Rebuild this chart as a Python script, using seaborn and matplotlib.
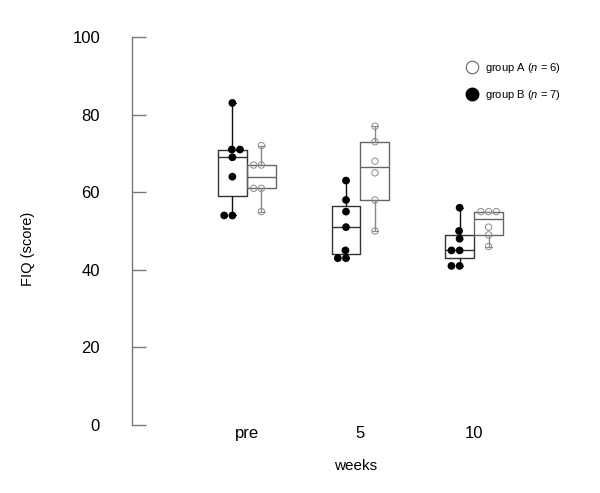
import numpy as np
import pandas as pd
import matplotlib
matplotlib.use("Agg")
import matplotlib.pyplot as plt
from matplotlib.lines import Line2D
import seaborn as sns

# ── data (FIQ scores) ─────────────────────────────────────────────────────────
WEEKS  = ["pre", "5", "10"]
GROUPS = ["group B", "group A"]          # left / right box of each pair
N      = {"group A": 6, "group B": 7}

b_pre = [83, 71, 71, 69, 64, 54, 54]
b_5   = [63, 58, 55, 51, 45, 43, 43]
b_10  = [56, 50, 48, 45, 45, 41, 41]

a_pre = [72, 67, 67, 61, 61, 55]
a_5   = [77, 73, 68, 65, 58, 50]
a_10  = [55, 55, 55, 51, 49, 46]

SCORES = {
    "group B": [b_pre, b_5, b_10],
    "group A": [a_pre, a_5, a_10],
}

BOX_W  = 0.255
OFFSET = {"group B": -BOX_W / 2, "group A": BOX_W / 2}
BOX_C  = {"group B": "#333333", "group A": "#666666"}
WHIS_C = {"group B": "#111111", "group A": "#888888"}

rows = []
for g in GROUPS:
    for i, vals in enumerate(SCORES[g]):
        for v in vals:
            rows.append({"week": WEEKS[i], "group": g, "score": v,
                         "pos": i + OFFSET[g]})
df = pd.DataFrame(rows)


def tukey_stats(vals):
    v = np.sort(np.asarray(vals, float))
    n = len(v)
    return dict(med=np.median(v), q1=np.median(v[:(n + 1) // 2]),
                q3=np.median(v[n // 2:]), whislo=v.min(), whishi=v.max(),
                fliers=[])


# ── plot ──────────────────────────────────────────────────────────────────────
sns.set_style("white")
plt.rcParams["font.family"] = ["Liberation Sans", "DejaVu Sans"]
plt.rcParams["mathtext.fontset"] = "custom"
plt.rcParams["mathtext.it"] = "Liberation Sans:italic"
plt.rcParams["mathtext.rm"] = "Liberation Sans"
plt.rcParams["text.color"] = "black"
plt.rcParams["axes.labelcolor"] = "black"

fig = plt.figure(figsize=(6.0, 4.93), dpi=100)
ax = fig.add_axes([132 / 600, 68 / 493, 448 / 600, 388 / 493])

for g in GROUPS:
    stats = [tukey_stats(v) for v in SCORES[g]]
    pos = [i + OFFSET[g] for i in range(len(WEEKS))]
    ax.bxp(stats, positions=pos, widths=BOX_W, capwidths=0.06,
           showfliers=False, manage_ticks=False,
           boxprops=dict(color=BOX_C[g], linewidth=1),
           medianprops=dict(color=BOX_C[g], linewidth=1),
           whiskerprops=dict(color=WHIS_C[g], linewidth=1),
           capprops=dict(color=WHIS_C[g], linewidth=0.8),
           zorder=1)

sns.swarmplot(data=df, x="pos", y="score", hue="group", hue_order=GROUPS,
              palette={"group B": "black", "group A": "white"},
              native_scale=True, orient="x", size=5.6, linewidth=0,
              legend=False, ax=ax, zorder=3)

for coll in ax.collections:
    fc = coll.get_facecolor()
    if len(fc) and fc[0][0] > 0.5:       # open markers, group A
        coll.set_facecolor("none")
        coll.set_edgecolor("#8a8a8a")
        coll.set_linewidth(0.7)
        coll.set_sizes([4.6 ** 2])

ax.set_xlim(-1.011, 2.932)
ax.set_ylim(0, 100)
ax.set_xticks(range(len(WEEKS)))
ax.set_xticklabels(WEEKS)
ax.set_yticks(range(0, 101, 20))

for s in ["top", "right", "bottom"]:
    ax.spines[s].set_visible(False)
ax.spines["left"].set_color("#777777")
ax.spines["left"].set_linewidth(1)

ax.tick_params(axis="y", left=True, direction="in", length=10, width=1,
               color="#777777", pad=23, labelsize=12, labelcolor="black")
ax.tick_params(axis="x", bottom=False, length=0, pad=1, labelsize=12,
               labelcolor="black")

ax.set_xlabel("weeks", fontsize=11)
ax.xaxis.set_label_coords(0.5, -0.088)
ax.set_ylabel("FIQ (score)", fontsize=10.5)
ax.yaxis.set_label_coords(-0.2165, 0.4536)

handles = [
    Line2D([], [], marker="o", ls="none", mfc="white", mec="#666666",
           mew=0.8, ms=9, label=f"group A ($n$ = {N['group A']})"),
    Line2D([], [], marker="o", ls="none", mfc="black", mec="black",
           ms=9, label=f"group B ($n$ = {N['group B']})"),
]
fig.legend(handles=handles, loc="upper left",
           bbox_to_anchor=(466 / 600, 1 - 61 / 493),
           frameon=False, fontsize=8, handlelength=1.0, handletextpad=0.7,
           labelspacing=1.2, borderpad=0, borderaxespad=0)

fig.savefig("out.png", dpi=100)
